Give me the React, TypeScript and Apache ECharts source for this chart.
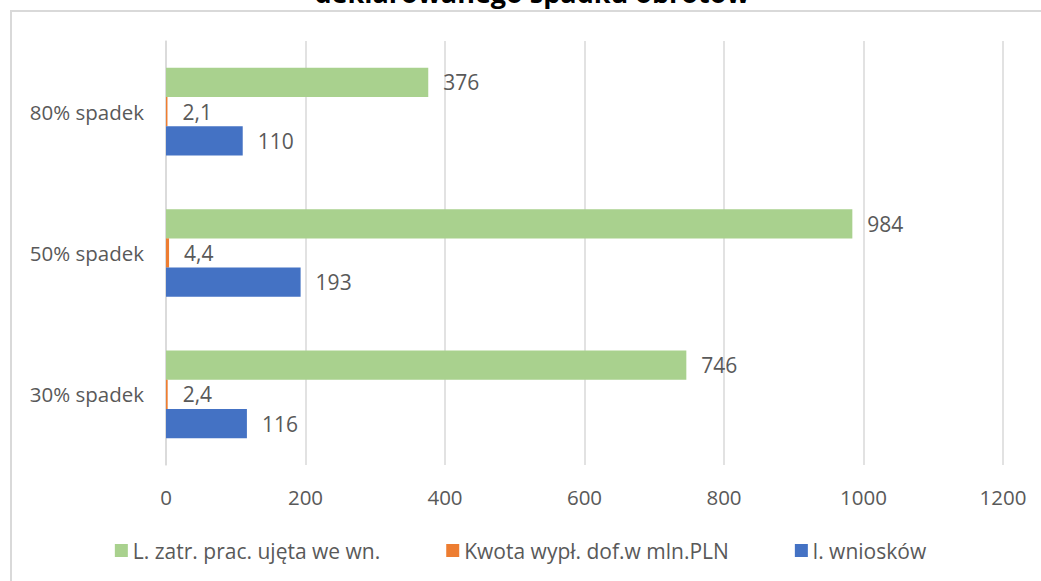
import React, { useEffect, useRef } from "react";
import * as echarts from "echarts";

const categories = ["30% spadek", "50% spadek", "80% spadek"];
const wnioski = [116, 193, 110];
const kwota = [2.4, 4.4, 2.1];
const zatr = [746, 984, 376];
const xTicks = { min: 0, max: 1200, interval: 200 };
const titleText = "deklarowanego spadku obrotów";
const seriesNames = ["L. zatr. prac. ujęta we wn.", "Kwota wypł. dof.w mln.PLN", "l. wniosków"];

const FONT = "'Open Sans', 'Noto Sans', sans-serif";
const TXT = "#595959";

export default function App() {
  const ref = useRef<HTMLDivElement>(null);
  useEffect(() => {
    if (!ref.current) return;
    const chart = echarts.init(ref.current, null, { renderer: "svg" });
    const label = {
      show: true,
      position: "right",
      distance: 15,
      color: TXT,
      fontSize: 21,
      fontFamily: FONT,
      formatter: (p: any) => String(p.value).replace(".", ","),
    };
    chart.setOption({
      animation: false,
      backgroundColor: "#ffffff",
      textStyle: { fontFamily: FONT },
      graphic: [
        {
          type: "rect",
          shape: { x: 11, y: 11, width: 1200, height: 800 },
          style: { fill: "none", stroke: "#d9d9d9", lineWidth: 2 },
        },
        {
          type: "text",
          x: 532,
          y: -8,
          style: {
            text: titleText,
            fill: "#000000",
            font: "bold 27px " + FONT,
            textAlign: "center",
            textVerticalAlign: "middle",
          },
        },
      ],
      grid: { left: 166, right: 38, top: 41, bottom: 116 },
      legend: {
        bottom: 15,
        left: "center",
        data: seriesNames,
        icon: "rect",
        itemWidth: 13,
        itemHeight: 13,
        itemGap: 66,
        textStyle: { color: TXT, fontSize: 21, fontFamily: FONT },
      },
      xAxis: {
        type: "value",
        min: xTicks.min,
        max: xTicks.max,
        interval: xTicks.interval,
        axisLine: { show: false },
        axisTick: { show: false },
        axisLabel: {
          color: TXT,
          fontSize: 20.5,
          fontFamily: FONT,
          margin: 21,
          formatter: (v: number) => String(v),
        },
        splitLine: { lineStyle: { color: "#d9d9d9", width: 1.5 } },
      },
      yAxis: {
        type: "category",
        data: categories,
        axisLine: { show: true, lineStyle: { color: "#d9d9d9", width: 1.5 } },
        axisTick: { show: false },
        axisLabel: { color: TXT, fontSize: 20.5, fontFamily: FONT, margin: 22 },
      },
      series: [
        {
          name: seriesNames[0],
          type: "bar",
          data: zatr,
          itemStyle: { color: "#A9D18E" },
          barGap: "0%",
          barCategoryGap: "38%",
          label,
        },
        {
          name: seriesNames[1],
          type: "bar",
          data: kwota,
          itemStyle: { color: "#ED7D31" },
          barGap: "0%",
          barCategoryGap: "38%",
          label,
        },
        {
          name: seriesNames[2],
          type: "bar",
          data: wnioski,
          itemStyle: { color: "#4472C4" },
          barGap: "0%",
          barCategoryGap: "38%",
          label,
        },
      ],
    });
    return () => chart.dispose();
  }, []);
  return (
    <div
      ref={ref}
      style={{ position: "fixed", left: 0, top: 0, width: 1041, height: 581 }}
    />
  );
}
